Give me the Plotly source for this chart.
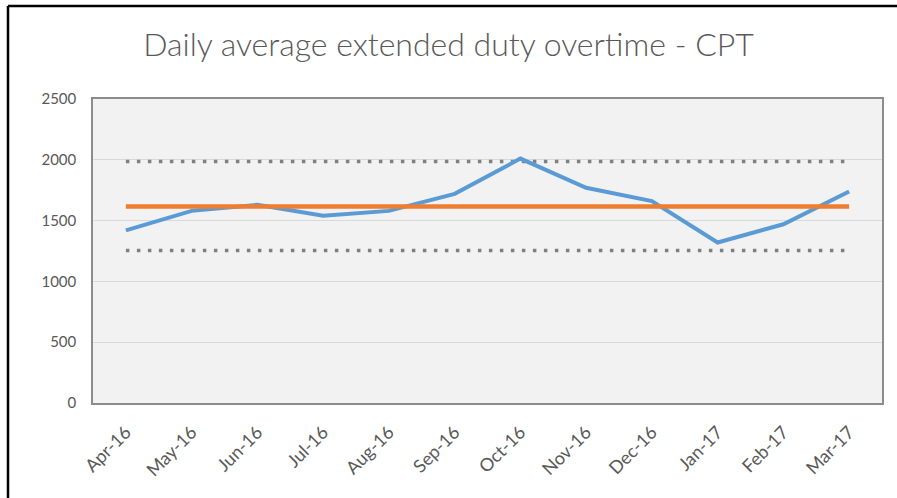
import plotly.graph_objects as go

# ── Données ────────────────────────────────────────────────────────────────────
MONTHS = ["Apr-16", "May-16", "Jun-16", "Jul-16", "Aug-16", "Sep-16",
          "Oct-16", "Nov-16", "Dec-16", "Jan-17", "Feb-17", "Mar-17"]
OVERTIME = [1420, 1580, 1630, 1540, 1580, 1720, 2010, 1770, 1660, 1320, 1470, 1740]
MEAN = [1615] * 12
UPPER = [1985] * 12
LOWER = [1255] * 12

# ── Palette ────────────────────────────────────────────────────────────────────
BLUE = "#5B9BD5"
ORANGE = "#ED7D31"
DOTS = "#808080"
TEXT = "#595959"
FONT = "Lato"

fig = go.Figure()
for vals in (UPPER, LOWER):
    fig.add_trace(go.Scatter(
        x=MONTHS, y=vals, mode="lines",
        line=dict(color=DOTS, width=3.5, dash="3.5px,7.5px"),
        hoverinfo="skip",
    ))
fig.add_trace(go.Scatter(
    x=MONTHS, y=OVERTIME, mode="lines",
    line=dict(color=BLUE, width=4),
    hovertemplate="%{x}: %{y}<extra></extra>",
))
fig.add_trace(go.Scatter(
    x=MONTHS, y=MEAN, mode="lines",
    line=dict(color=ORANGE, width=4.5),
    hoverinfo="skip",
))

# cadre noir de l'image (haut + gauche)
W, H = 789, 304
TOP = (304 + 93) / H
fig.add_shape(type="line", xref="paper", yref="paper",
              x0=-85 / W, x1=1.2, y0=TOP, y1=TOP,
              line=dict(color="black", width=2.5))
fig.add_shape(type="line", xref="paper", yref="paper",
              x0=-85 / W, x1=-85 / W, y0=TOP, y1=-0.5,
              line=dict(color="black", width=2.5))

fig.update_layout(
    width=897, height=498,
    margin=dict(l=93, r=15, t=99, b=95),
    paper_bgcolor="white",
    plot_bgcolor="#F2F2F2",
    showlegend=False,
    font=dict(family=FONT, color=TEXT, size=14),
    title=dict(
        text="Daily average extended duty overtime - CPT",
        font=dict(family=FONT, size=32, color=TEXT, weight=300),
        x=0.5, xanchor="center", y=0.91, yanchor="middle",
    ),
)
fig.update_xaxes(
    type="category", range=[-0.5, 11.5],
    tickangle=-45, showgrid=False,
    showline=True, linecolor="#8C8C8C", linewidth=1.5, mirror=True,
    tickfont=dict(size=18, color=TEXT),
    ticklabelstandoff=10,
)
fig.update_yaxes(
    range=[0, 2500], dtick=500,
    gridcolor="#D9D9D9", gridwidth=1, zeroline=False,
    showline=True, linecolor="#8C8C8C", linewidth=1.5, mirror=True,
    tickfont=dict(size=15, color=TEXT),
    ticklabelstandoff=12,
)

fig.write_html("out.html", config={"displayModeBar": False},
               post_script="document.body.style.margin='0';")
